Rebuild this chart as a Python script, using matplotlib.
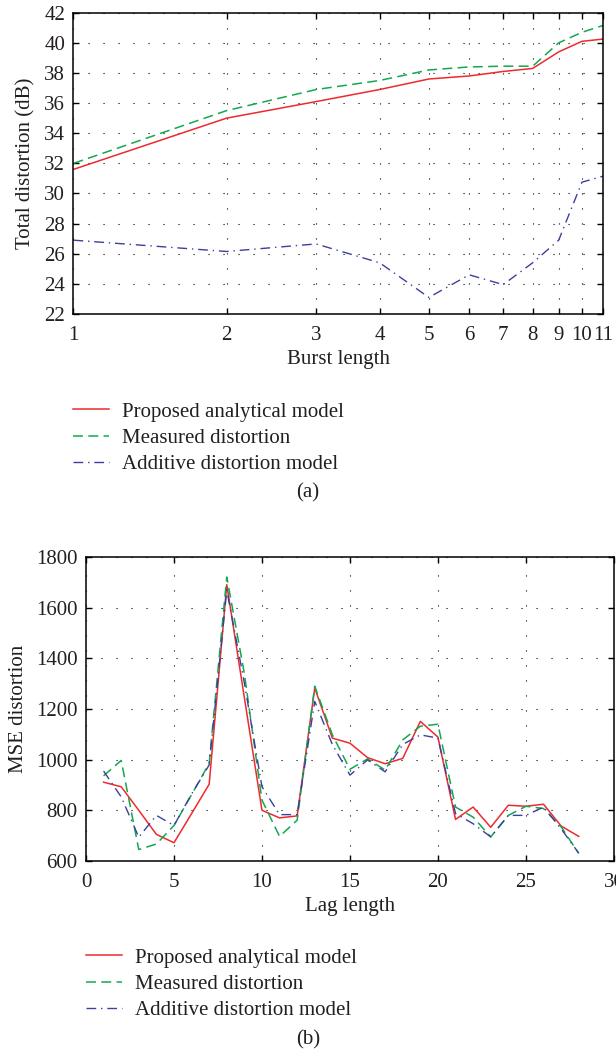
import matplotlib
matplotlib.use("Agg")
import matplotlib.pyplot as plt
from matplotlib.lines import Line2D

plt.rcParams['font.family'] = ['Liberation Serif', 'DejaVu Serif']
plt.rcParams['font.size'] = 15

# ---- data (a) ----
burst_length = [1, 2, 3, 4, 5, 6, 7, 8, 9, 10, 11]
proposed_a = [31.6, 35.0, 36.1, 36.9, 37.6, 37.8, 38.1, 38.3, 39.4, 40.1, 40.25]
measured_a = [32.0, 35.5, 36.9, 37.5, 38.2, 38.4, 38.45, 38.45, 40.0, 40.7, 41.15]
additive_a = [26.9, 26.15, 26.65, 25.4, 23.1, 24.6, 23.95, 25.4, 26.9, 30.75, 31.15]
yticks_a = [22, 24, 26, 28, 30, 32, 34, 36, 38, 40, 42]

# ---- data (b) ----
lag_length = list(range(1, 29))
proposed_b = [911, 893, 800, 705, 672, 787, 903, 1691, 1245, 800, 770, 778, 1283, 1085,
              1065, 1008, 984, 1005, 1151, 1089, 764, 813, 733, 820, 816, 824, 738, 697]
measured_b = [936, 997, 645, 667, 740, 862, 985, 1721, 1340, 840, 697, 761, 1290, 1098,
              962, 1003, 959, 1078, 1132, 1140, 813, 773, 695, 780, 816, 807, 735, 630]
additive_b = [955, 853, 694, 780, 740, 864, 979, 1670, 1303, 893, 783, 783, 1230, 1060,
              939, 999, 952, 1060, 1098, 1085, 787, 747, 695, 780, 780, 813, 727, 631]
xticks_b = [0, 5, 10, 15, 20, 25, 30]
yticks_b = [600, 800, 1000, 1200, 1400, 1600, 1800]

labels = ["Proposed analytical model", "Measured distortion", "Additive distortion model"]

RED = '#ee2a2e'
GREEN = '#12a84e'
BLUE = '#3b3f9e'
TXT = '#231f20'
DASH = (0, (6.5, 3.5))
DASHDOT = (0, (7, 3.5, 1, 3.5))

fig = plt.figure(figsize=(6.16, 10.59), dpi=100)

def style(ax):
    ax.tick_params(direction='in', top=True, right=True, length=4, width=1.0,
                   colors='black', labelcolor=TXT, pad=6)
    ax.tick_params(axis='x', pad=9)
    ax.tick_params(which='minor', length=0)
    for s in ax.spines.values():
        s.set_linewidth(1.1)
    ax.grid(True, color='black', linestyle=(0, (1, 12.5)), linewidth=0.8)
    ax.set_axisbelow(True)

# ---- (a) ----
ax1 = fig.add_axes([0.1193, 0.7035, 0.8596, 0.2845])
ax1.plot(burst_length, proposed_a, color=RED, lw=1.1, linestyle='-')
ax1.plot(burst_length, measured_a, color=GREEN, lw=1.1, linestyle=DASH)
ax1.plot(burst_length, additive_a, color=BLUE, lw=1.0, linestyle=DASHDOT)
ax1.set_xscale('log')
ax1.set_xlim(1, 11)
ax1.set_ylim(22, 42)
ax1.set_xticks(burst_length)
ax1.set_xticklabels([str(v) for v in burst_length])
ax1.xaxis.set_minor_locator(matplotlib.ticker.NullLocator())
ax1.set_yticks(yticks_a)
ax1.set_xlabel("Burst length", color=TXT, labelpad=3)
ax1.set_ylabel("Total distortion (dB)", color=TXT, labelpad=6)
style(ax1)

# ---- (b) ----
ax2 = fig.add_axes([0.1396, 0.187, 0.857, 0.287])
ax2.plot(lag_length, proposed_b, color=RED, lw=1.1, linestyle='-')
ax2.plot(lag_length, measured_b, color=GREEN, lw=1.1, linestyle=DASH)
ax2.plot(lag_length, additive_b, color=BLUE, lw=1.0, linestyle=DASHDOT)
ax2.set_xlim(0, 30)
ax2.set_ylim(600, 1800)
ax2.set_xticks(xticks_b)
ax2.set_yticks(yticks_b)
ax2.set_xlabel("Lag length", color=TXT, labelpad=3)
ax2.set_ylabel("MSE distortion", color=TXT, labelpad=6)
style(ax2)

def handles():
    return [Line2D([], [], color=RED, lw=1.1, linestyle='-'),
            Line2D([], [], color=GREEN, lw=1.1, linestyle=DASH),
            Line2D([], [], color=BLUE, lw=1.0, linestyle=DASHDOT)]

leg_kw = dict(loc='upper left', frameon=False, handlelength=1.75, handletextpad=0.62,
              labelspacing=0.32, borderpad=0, borderaxespad=0, labelcolor=TXT)
fig.legend(handles(), labels, bbox_to_anchor=(73 / 616, 1 - 402 / 1059), **leg_kw)
fig.text(0.5, 1 - 493 / 1059, "(a)", ha='center', va='center', color=TXT)

fig.legend(handles(), labels, bbox_to_anchor=(86 / 616, 1 - 948 / 1059), **leg_kw)
fig.text(0.5, 1 - 1040 / 1059, "(b)", ha='center', va='center', color=TXT)

fig.savefig("out.png", dpi=100)
